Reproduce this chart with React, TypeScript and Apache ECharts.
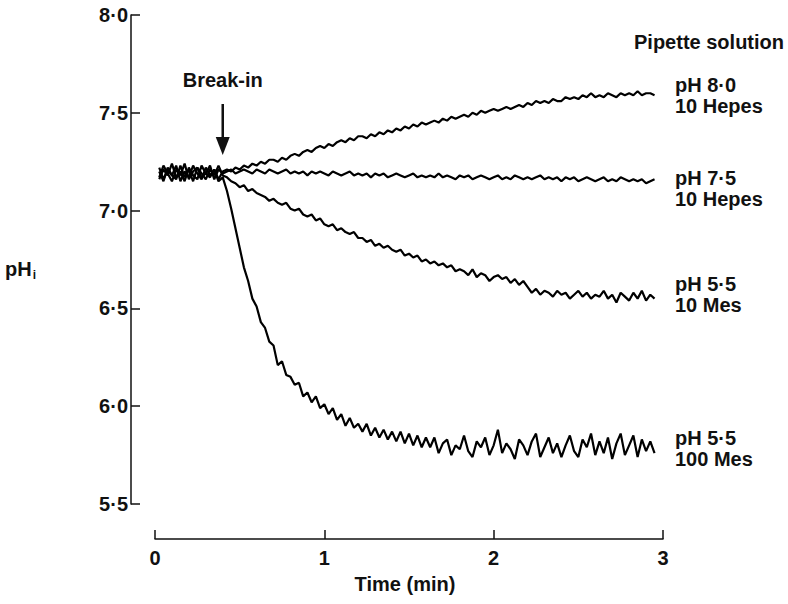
import React, { useEffect, useRef } from "react";
import * as echarts from "echarts";

// Sample times (min) of the recordings
const sampleTimes = [
  0.025, 0.05, 0.075, 0.1, 0.125, 0.15, 0.175, 0.2, 0.225, 0.25, 0.275, 0.3, 0.325, 0.35, 0.375, 0.4,
  0.425, 0.45, 0.475, 0.5, 0.525, 0.55, 0.575, 0.6,
  0.625, 0.65, 0.675, 0.7, 0.725, 0.75, 0.775, 0.8,
  0.825, 0.85, 0.875, 0.9, 0.925, 0.95, 0.975, 1.0,
  1.025, 1.05, 1.075, 1.1, 1.125, 1.15, 1.175, 1.2,
  1.225, 1.25, 1.275, 1.3, 1.325, 1.35, 1.375, 1.4,
  1.425, 1.45, 1.475, 1.5, 1.525, 1.55, 1.575, 1.6,
  1.625, 1.65, 1.675, 1.7, 1.725, 1.75, 1.775, 1.8,
  1.825, 1.85, 1.875, 1.9, 1.925, 1.95, 1.975, 2.0,
  2.025, 2.05, 2.075, 2.1, 2.125, 2.15, 2.175, 2.2,
  2.225, 2.25, 2.275, 2.3, 2.325, 2.35, 2.375, 2.4,
  2.425, 2.45, 2.475, 2.5, 2.525, 2.55, 2.575, 2.6,
  2.625, 2.65, 2.675, 2.7, 2.725, 2.75, 2.775, 2.8,
  2.825, 2.85, 2.875, 2.9, 2.925, 2.95,
];

// pHi traces, one per pipette solution
const ph80Hepes10 = [
  7.22, 7.16, 7.21, 7.18, 7.23, 7.15, 7.2, 7.17, 7.23, 7.19, 7.16, 7.22, 7.18, 7.21, 7.16, 7.2,
  7.21, 7.2, 7.22, 7.21, 7.23, 7.22, 7.24, 7.23,
  7.25, 7.24, 7.26, 7.26, 7.25, 7.27, 7.26, 7.28,
  7.29, 7.28, 7.3, 7.31, 7.3, 7.32, 7.33, 7.32,
  7.34, 7.33, 7.35, 7.36, 7.35, 7.37, 7.36, 7.38,
  7.38, 7.37, 7.39, 7.38, 7.4, 7.39, 7.41, 7.4,
  7.42, 7.41, 7.43, 7.42, 7.44, 7.43, 7.45, 7.44,
  7.45, 7.46, 7.45, 7.47, 7.46, 7.48, 7.47, 7.48,
  7.49, 7.48, 7.5, 7.49, 7.51, 7.5, 7.51, 7.52,
  7.51, 7.52, 7.53, 7.52, 7.53, 7.54, 7.53, 7.55,
  7.54, 7.56, 7.55, 7.56, 7.55, 7.57, 7.56, 7.56,
  7.58, 7.57, 7.58, 7.57, 7.59, 7.58, 7.6, 7.58,
  7.59, 7.58, 7.6, 7.59, 7.58, 7.6, 7.59, 7.6,
  7.59, 7.61, 7.59, 7.6, 7.6, 7.59,
];

const ph75Hepes10 = [
  7.17, 7.23, 7.19, 7.15, 7.21, 7.18, 7.24, 7.16, 7.2, 7.22, 7.17, 7.19, 7.23, 7.16, 7.21, 7.19,
  7.2, 7.21, 7.19, 7.2, 7.21, 7.2, 7.19, 7.21,
  7.2, 7.19, 7.21, 7.2, 7.19, 7.2, 7.21, 7.19,
  7.2, 7.19, 7.2, 7.18, 7.2, 7.19, 7.2, 7.19,
  7.18, 7.2, 7.19, 7.18, 7.19, 7.2, 7.18, 7.19,
  7.18, 7.19, 7.17, 7.19, 7.18, 7.19, 7.17, 7.18,
  7.19, 7.18, 7.17, 7.18, 7.19, 7.17, 7.18, 7.17,
  7.18, 7.17, 7.19, 7.17, 7.18, 7.17, 7.16, 7.18,
  7.17, 7.18, 7.16, 7.17, 7.18, 7.17, 7.16, 7.17,
  7.18, 7.16, 7.17, 7.16, 7.18, 7.17, 7.16, 7.17,
  7.16, 7.17, 7.18, 7.16, 7.17, 7.16, 7.17, 7.15,
  7.17, 7.16, 7.17, 7.15, 7.16, 7.17, 7.16, 7.15,
  7.16, 7.17, 7.15, 7.16, 7.15, 7.17, 7.16, 7.15,
  7.16, 7.15, 7.16, 7.14, 7.15, 7.16,
];

const ph55Mes10 = [
  7.2, 7.15, 7.22, 7.18, 7.16, 7.23, 7.17, 7.21, 7.15, 7.22, 7.19, 7.16, 7.21, 7.18, 7.23, 7.18,
  7.17, 7.15, 7.14, 7.12, 7.13, 7.1, 7.11, 7.09,
  7.08, 7.07, 7.05, 7.06, 7.04, 7.03, 7.04, 7.01,
  7.0, 7.01, 6.98, 6.97, 6.98, 6.95, 6.96, 6.93,
  6.92, 6.93, 6.9, 6.91, 6.89, 6.88, 6.89, 6.86,
  6.86, 6.84, 6.85, 6.82, 6.83, 6.81, 6.82, 6.8,
  6.79, 6.8, 6.77, 6.78, 6.76, 6.77, 6.74, 6.75,
  6.73, 6.74, 6.72, 6.73, 6.71, 6.72, 6.69, 6.7,
  6.69, 6.67, 6.7, 6.66, 6.68, 6.67, 6.64, 6.66,
  6.67, 6.65, 6.66, 6.63, 6.65, 6.62, 6.64, 6.61,
  6.58, 6.6, 6.57, 6.59, 6.58, 6.56, 6.59, 6.57,
  6.58, 6.55, 6.57, 6.59, 6.56, 6.58, 6.55, 6.57,
  6.56, 6.59, 6.55, 6.57, 6.53, 6.58, 6.56, 6.54,
  6.58, 6.55, 6.59, 6.54, 6.57, 6.55,
];

const ph55Mes100 = [
  7.16, 7.21, 7.18, 7.24, 7.17, 7.2, 7.15, 7.22, 7.18, 7.16, 7.23, 7.19, 7.17, 7.21, 7.15, 7.17,
  7.1, 7.01, 6.91, 6.81, 6.71, 6.64, 6.55, 6.51,
  6.43, 6.4, 6.33, 6.31, 6.21, 6.23, 6.16, 6.15,
  6.11, 6.12, 6.05, 6.07, 6.02, 6.05, 5.99, 6.01,
  5.96, 5.99, 5.93, 5.96, 5.9, 5.94, 5.89, 5.91,
  5.87, 5.91, 5.85, 5.89, 5.84, 5.88, 5.83, 5.87,
  5.82, 5.87, 5.81, 5.86, 5.8, 5.85, 5.79, 5.84,
  5.79, 5.84, 5.76, 5.81, 5.83, 5.75, 5.8, 5.78,
  5.85, 5.77, 5.74, 5.82, 5.79, 5.84, 5.75, 5.8,
  5.88, 5.76, 5.81, 5.78, 5.73, 5.83, 5.8, 5.75,
  5.82, 5.86, 5.74, 5.79, 5.84, 5.76, 5.81, 5.74,
  5.8, 5.85, 5.77, 5.74, 5.83, 5.79, 5.86, 5.75,
  5.82, 5.76, 5.84, 5.73, 5.81, 5.86, 5.75, 5.8,
  5.85, 5.74, 5.83, 5.77, 5.82, 5.76,
];

const traces = [ph80Hepes10, ph75Hepes10, ph55Mes10, ph55Mes100];
const traceNames = ["pH 8·0 10 Hepes", "pH 7·5 10 Hepes", "pH 5·5 10 Mes", "pH 5·5 100 Mes"];
const traceLabels = ["pH 8·0\n10 Hepes", "pH 7·5\n10 Hepes", "pH 5·5\n10 Mes", "pH 5·5\n100 Mes"];

const yTickValues = [5.5, 6.0, 6.5, 7.0, 7.5, 8.0];
const yTickLabels = ["5·5", "6·0", "6·5", "7·0", "7·5", "8·0"];
const xTickValues = [0, 1, 2, 3];
const xTickLabels = ["0", "1", "2", "3"];

const breakInTime = 0.4;

const FONT = '"Liberation Sans", Arial, Helvetica, sans-serif';
const INK = "#111111";
const FS = 20;

// layout
const labelX = 675;
const labelTops = [74, 167, 273, 427];

export default function App() {
  const ref = useRef<HTMLDivElement>(null);
  useEffect(() => {
    document.body.style.margin = "0";
    if (!ref.current) return;
    const chart = echarts.init(ref.current, null, { renderer: "svg" });

    const axisLabelBase = {
      color: INK,
      fontFamily: FONT,
      fontSize: FS,
      fontWeight: "bold",
    };

    chart.setOption({
      animation: false,
      backgroundColor: "#fff",
      grid: { left: 155, right: 125, top: 15, bottom: 100, containLabel: false },
      xAxis: {
        type: "value",
        min: 0,
        max: 3,
        interval: 1,
        offset: 35,
        axisLine: { show: true, onZero: false, lineStyle: { color: INK, width: 1.5 } },
        axisTick: { show: true, inside: true, length: 9, lineStyle: { color: INK, width: 1.5 } },
        splitLine: { show: false },
        axisLabel: {
          ...axisLabelBase,
          margin: 9,
          formatter: (v: number) => xTickLabels[xTickValues.indexOf(v)] ?? "",
        },
      },
      yAxis: {
        type: "value",
        min: 5.5,
        max: 8.0,
        interval: 0.5,
        offset: 24,
        axisLine: { show: true, onZero: false, lineStyle: { color: INK, width: 1.5 } },
        axisTick: { show: true, inside: true, length: 9, lineStyle: { color: INK, width: 1.5 } },
        splitLine: { show: false },
        axisLabel: {
          ...axisLabelBase,
          margin: 3,
          formatter: (v: number) => {
            const idx = yTickValues.findIndex((t) => Math.abs(t - v) < 1e-6);
            return idx >= 0 ? yTickLabels[idx] : "";
          },
        },
      },
      series: traces.map((arr, k) => ({
        name: traceNames[k],
        type: "line",
        showSymbol: false,
        symbol: "none",
        lineStyle: { color: "#000", width: 2.2 },
        data: sampleTimes.map((t, i) => [t, arr[i]]),
        z: 2,
      })),
    });

    const p = chart.convertToPixel({ gridIndex: 0 }, [breakInTime, 7.2]) as number[];
    const ax = p[0];

    const textEl = (text: string, x: number, y: number, align = "left", vAlign = "middle", extra: any = {}) => ({
      type: "text",
      style: {
        text,
        x,
        y,
        fill: INK,
        font: `bold ${FS}px ${FONT}`,
        align,
        verticalAlign: vAlign,
        ...extra,
      },
    });

    chart.setOption({
      graphic: [
        textEl("Break-in", ax, 80, "center"),
        {
          type: "line",
          shape: { x1: ax, y1: 104, x2: ax, y2: 140 },
          style: { stroke: INK, lineWidth: 2.5 },
        },
        {
          type: "polygon",
          shape: { points: [[ax - 7, 137], [ax + 7, 137], [ax, 155]] },
          style: { fill: INK },
        },
        textEl("Pipette solution", 784, 42, "right"),
        ...traceLabels.map((t, i) => textEl(t, labelX, labelTops[i], "left", "top", { lineHeight: 21 })),
        textEl("Time (min)", 405, 584, "center"),
        {
          type: "text",
          style: {
            fill: INK,
            rich: {
              m: { fontSize: FS, fontWeight: "bold", fontFamily: FONT, fill: INK, color: INK },
              s: { fontSize: 12, fontWeight: "bold", fontFamily: FONT, fill: INK, color: INK, padding: [12, 0, 0, 1] },
            },
            text: "{m|pH}{s|i}",
            x: 5,
            y: 269,
            verticalAlign: "middle",
          },
        },
      ],
    });

    return () => chart.dispose();
  }, []);
  return <div ref={ref} style={{ width: 788, height: 604 }} />;
}
